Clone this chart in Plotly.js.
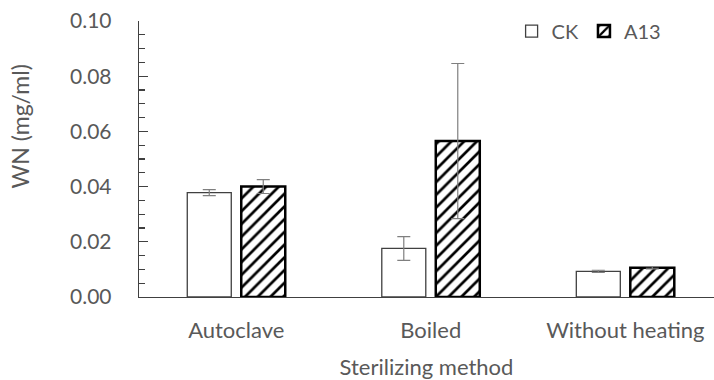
<!DOCTYPE html>
<html>
<head>
<meta charset="utf-8">
<script src="https://cdn.plot.ly/plotly-3.0.1.min.js"></script>
<style>html,body{margin:0;padding:0;background:#fff;}#chart{width:714px;height:380px;}</style>
</head>
<body>
<div id="chart"></div>
<script>
var categories = ["Autoclave", "Boiled", "Without heating"];
var ckValues = [0.0378, 0.0176, 0.0093];
var ckErrors = [0.0011, 0.0043, 0.0004];
var a13Values = [0.0400, 0.0565, 0.0106];
var a13Errors = [0.0025, 0.0281, 0.0004];
var yTickValues = [0, 0.02, 0.04, 0.06, 0.08, 0.10];

var textColor = "#595959";
var fam = "Lato, 'Open Sans', sans-serif";

var traceCK = {
  type: "bar", name: "CK", x: categories, y: ckValues,
  marker: {color: "#ffffff", line: {color: "#404040", width: 1.3}},
  error_y: {type: "data", array: ckErrors, visible: true, color: "#7f7f7f", thickness: 1.2, width: 6.5}
};
var traceA13 = {
  type: "bar", name: "A13", x: categories, y: a13Values,
  marker: {color: "#ffffff", line: {color: "#000000", width: 2.5},
           pattern: {shape: "/", fgcolor: "#000000", bgcolor: "#ffffff", size: 9, solidity: 0.3}},
  error_y: {type: "data", array: a13Errors, visible: true, color: "#7f7f7f", thickness: 1.2, width: 6.5}
};

var layout = {
  width: 714, height: 380,
  margin: {l: 139, r: 0, t: 21, b: 83},
  paper_bgcolor: "#ffffff", plot_bgcolor: "#ffffff",
  font: {family: fam, size: 20, color: textColor},
  barmode: "group", bargap: 0.445, bargroupgap: 0.185,
  showlegend: true,
  legend: {orientation: "h", x: 0.648, xanchor: "left", y: 1.034, yanchor: "top",
           font: {family: fam, size: 20, color: textColor}, itemwidth: 30,
           bgcolor: "rgba(0,0,0,0)"},
  xaxis: {
    type: "category", range: [-0.5, 2.456], showgrid: false, zeroline: false,
    showline: true, linecolor: "#404040", linewidth: 1.3,
    ticks: "", ticklabelstandoff: 13,
    tickfont: {family: fam, size: 22, color: textColor},
    title: {text: "Sterilizing method", font: {family: fam, size: 22, color: textColor}, standoff: 27}
  },
  yaxis: {
    range: [0, 0.1], showgrid: false, zeroline: false,
    showline: true, linecolor: "#404040", linewidth: 1.3,
    tickmode: "array", tickvals: yTickValues, tickformat: ".2f",
    ticks: "inside", ticklen: 9, tickcolor: "#404040", tickwidth: 1.3,
    minor: {dtick: 0.005, ticks: "inside", ticklen: 6, tickcolor: "#404040", tickwidth: 1.3},
    ticklabelstandoff: 22,
    tickfont: {family: fam, size: 21, color: textColor}
  },
  annotations: [{
    text: "WN (mg/ml)", textangle: -90, showarrow: false,
    xref: "paper", yref: "paper", x: (19 - 139) / 575, y: (297 - 126.5) / 276,
    xanchor: "center", yanchor: "middle",
    font: {family: fam, size: 23, color: textColor}
  }]
};

Plotly.newPlot("chart", [traceCK, traceA13], layout, {displayModeBar: false, staticPlot: true});
</script>
</body>
</html>
